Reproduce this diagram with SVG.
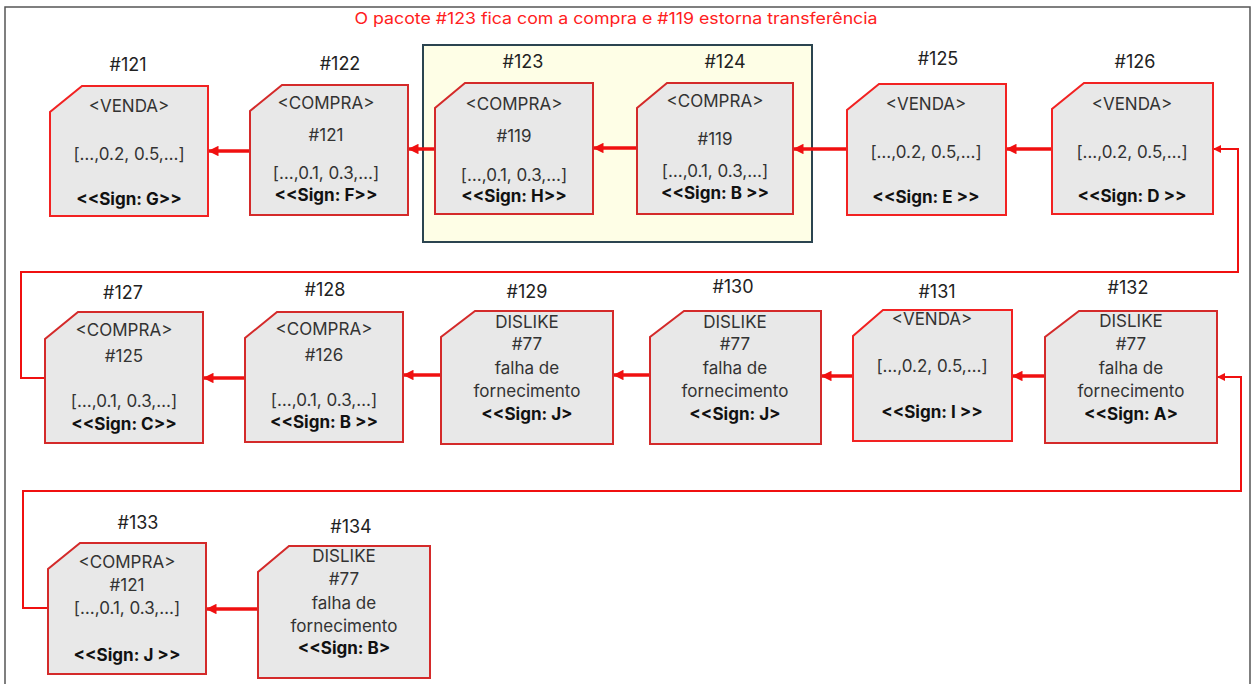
<svg xmlns="http://www.w3.org/2000/svg" width="1253" height="684" viewBox="0 0 1253 684">
<style>
.nd{fill:#e8e8e8;stroke:#f22222;stroke-width:2}
.nd2{fill:#e8e8e8;stroke:#d42a2a;stroke-width:2}
.t{font-family:Inter,"Liberation Sans",Arial,sans-serif;font-size:17px;fill:#333;text-anchor:middle}
.b{font-family:Inter,"Liberation Sans",Arial,sans-serif;font-size:17px;font-weight:bold;fill:#111;text-anchor:middle}
.lb{font-family:Inter,"Liberation Sans",Arial,sans-serif;font-size:18px;fill:#222;text-anchor:middle}
.ttl{font-family:Inter,"Liberation Sans",Arial,sans-serif;font-size:16px;fill:#ff2020;text-anchor:middle}
.thick{stroke:#f01010;stroke-width:3.5;fill:none;marker-end:url(#ah)}
.thin{stroke:#f01010;stroke-width:2;fill:none;marker-end:url(#as)}
</style>
<defs>
<marker id="ah" viewBox="0 0 10 10" refX="10" refY="5" markerWidth="3.6" markerHeight="3" orient="auto" markerUnits="strokeWidth">
<path d="M0,0 L10,5 L0,10 Z" fill="#f01010"/>
</marker>
<marker id="as" viewBox="0 0 10 10" refX="10" refY="5" markerWidth="4.5" markerHeight="4" orient="auto" markerUnits="strokeWidth">
<path d="M0,0 L10,5 L0,10 Z" fill="#f01010"/>
</marker>
</defs>
<rect x="5" y="7" width="1245" height="700" fill="#fff" stroke="#555" stroke-width="1.5"/>
<text class="ttl" x="616" y="24" textLength="523" lengthAdjust="spacingAndGlyphs">O pacote #123 fica com a compra e #119 estorna transferência</text>
<rect id="highlight" x="423" y="45" width="389" height="197" fill="#fefee6" stroke="#2b4450" stroke-width="2"/>

<g id="connectors">
<line class="thick" x1="1052" y1="149" x2="1006" y2="149"/>
<line class="thick" x1="847" y1="149" x2="793" y2="149"/>
<line class="thick" x1="637" y1="148" x2="593" y2="148"/>
<line class="thick" x1="435" y1="149" x2="408" y2="149"/>
<line class="thick" x1="250" y1="151" x2="208" y2="151"/>
<line class="thick" x1="245" y1="378" x2="203" y2="378"/>
<line class="thick" x1="441" y1="375" x2="403" y2="375"/>
<line class="thick" x1="650" y1="375" x2="613" y2="375"/>
<line class="thick" x1="853" y1="376" x2="821" y2="376"/>
<line class="thick" x1="1045" y1="376" x2="1012" y2="376"/>
<line class="thick" x1="258" y1="609" x2="206" y2="609"/>
<polyline class="thin" points="45,378 21,378 21,272 1238,272 1238,149 1213,149"/>
<polyline class="thin" points="48,608 23,608 23,491 1241,491 1241,377 1217,377"/>
</g>

<g id="n121">
<path class="nd" d="M82,86 L208,86 L208,216 L50,216 L50,112 Z"/>
<text class="lb" x="128" y="71">#121</text>
<text class="t" x="129" y="112">&lt;VENDA&gt;</text>
<text class="t" x="129" y="160">[…,0.2, 0.5,…]</text>
<text class="b" x="129" y="205">&lt;&lt;Sign: G&gt;&gt;</text>
</g>
<g id="n122">
<path class="nd2" d="M282,85 L408,85 L408,215 L250,215 L250,111 Z"/>
<text class="lb" x="340" y="70">#122</text>
<text class="t" x="326" y="109">&lt;COMPRA&gt;</text>
<text class="t" x="326" y="141">#121</text>
<text class="t" x="326" y="179">[…,0.1, 0.3,…]</text>
<text class="b" x="326" y="201">&lt;&lt;Sign: F&gt;&gt;</text>
</g>
<g id="n123">
<path class="nd2" d="M465,83 L593,83 L593,214 L435,214 L435,108 Z"/>
<text class="lb" x="523" y="68">#123</text>
<text class="t" x="514" y="110">&lt;COMPRA&gt;</text>
<text class="t" x="514" y="142">#119</text>
<text class="t" x="514" y="181">[…,0.1, 0.3,…]</text>
<text class="b" x="514" y="202">&lt;&lt;Sign: H&gt;&gt;</text>
</g>
<g id="n124">
<path class="nd2" d="M667,83 L793,83 L793,214 L637,214 L637,108 Z"/>
<text class="lb" x="725" y="68">#124</text>
<text class="t" x="715" y="107">&lt;COMPRA&gt;</text>
<text class="t" x="715" y="145">#119</text>
<text class="t" x="715" y="177">[…,0.1, 0.3,…]</text>
<text class="b" x="715" y="199">&lt;&lt;Sign: B &gt;&gt;</text>
</g>
<g id="n125">
<path class="nd" d="M879,84 L1006,84 L1006,215 L847,215 L847,110 Z"/>
<text class="lb" x="938" y="65">#125</text>
<text class="t" x="926" y="110">&lt;VENDA&gt;</text>
<text class="t" x="926" y="158">[…,0.2, 0.5,…]</text>
<text class="b" x="926" y="203">&lt;&lt;Sign: E &gt;&gt;</text>
</g>
<g id="n126">
<path class="nd" d="M1084,83 L1213,83 L1213,214 L1052,214 L1052,109 Z"/>
<text class="lb" x="1135" y="68">#126</text>
<text class="t" x="1132" y="110">&lt;VENDA&gt;</text>
<text class="t" x="1132" y="158">[…,0.2, 0.5,…]</text>
<text class="b" x="1132" y="202">&lt;&lt;Sign: D &gt;&gt;</text>
</g>
<g id="n127">
<path class="nd2" d="M78,312 L203,312 L203,443 L45,443 L45,339 Z"/>
<text class="lb" x="123" y="299">#127</text>
<text class="t" x="124" y="336">&lt;COMPRA&gt;</text>
<text class="t" x="124" y="362">#125</text>
<text class="t" x="124" y="407">[…,0.1, 0.3,…]</text>
<text class="b" x="124" y="430">&lt;&lt;Sign: C&gt;&gt;</text>
</g>
<g id="n128">
<path class="nd2" d="M277,312 L403,312 L403,442 L245,442 L245,338 Z"/>
<text class="lb" x="325" y="296">#128</text>
<text class="t" x="324" y="335">&lt;COMPRA&gt;</text>
<text class="t" x="324" y="361">#126</text>
<text class="t" x="324" y="406">[…,0.1, 0.3,…]</text>
<text class="b" x="324" y="428">&lt;&lt;Sign: B &gt;&gt;</text>
</g>
<g id="n129">
<path class="nd2" d="M475,311 L613,311 L613,444 L441,444 L441,337 Z"/>
<text class="lb" x="527" y="298">#129</text>
<text class="t" x="527" y="328">DISLIKE</text>
<text class="t" x="527" y="350">#77</text>
<text class="t" x="527" y="374">falha de</text>
<text class="t" x="527" y="397">fornecimento</text>
<text class="b" x="527" y="420">&lt;&lt;Sign: J&gt;</text>
</g>
<g id="n130">
<path class="nd2" d="M684,311 L821,311 L821,444 L650,444 L650,337 Z"/>
<text class="lb" x="733" y="293">#130</text>
<text class="t" x="735" y="328">DISLIKE</text>
<text class="t" x="735" y="350">#77</text>
<text class="t" x="735" y="374">falha de</text>
<text class="t" x="735" y="397">fornecimento</text>
<text class="b" x="735" y="420">&lt;&lt;Sign: J&gt;</text>
</g>
<g id="n131">
<path class="nd" d="M883,310 L1012,310 L1012,441 L853,441 L853,336 Z"/>
<text class="lb" x="937" y="298">#131</text>
<text class="t" x="932" y="325">&lt;VENDA&gt;</text>
<text class="t" x="932" y="372">[…,0.2, 0.5,…]</text>
<text class="b" x="932" y="418">&lt;&lt;Sign: I &gt;&gt;</text>
</g>
<g id="n132">
<path class="nd2" d="M1079,311 L1217,311 L1217,443 L1045,443 L1045,337 Z"/>
<text class="lb" x="1128" y="294">#132</text>
<text class="t" x="1131" y="327">DISLIKE</text>
<text class="t" x="1131" y="350">#77</text>
<text class="t" x="1131" y="374">falha de</text>
<text class="t" x="1131" y="397">fornecimento</text>
<text class="b" x="1131" y="420">&lt;&lt;Sign: A&gt;</text>
</g>
<g id="n133">
<path class="nd2" d="M80,543 L206,543 L206,674 L48,674 L48,569 Z"/>
<text class="lb" x="138" y="529">#133</text>
<text class="t" x="127" y="568">&lt;COMPRA&gt;</text>
<text class="t" x="127" y="591">#121</text>
<text class="t" x="127" y="614">[…,0.1, 0.3,…]</text>
<text class="b" x="127" y="661">&lt;&lt;Sign: J &gt;&gt;</text>
</g>
<g id="n134">
<path class="nd2" d="M289,546 L430,546 L430,678 L258,678 L258,572 Z"/>
<text class="lb" x="351" y="533">#134</text>
<text class="t" x="344" y="562">DISLIKE</text>
<text class="t" x="344" y="585">#77</text>
<text class="t" x="344" y="609">falha de</text>
<text class="t" x="344" y="632">fornecimento</text>
<text class="b" x="344" y="654">&lt;&lt;Sign: B&gt;</text>
</g>
</svg>
